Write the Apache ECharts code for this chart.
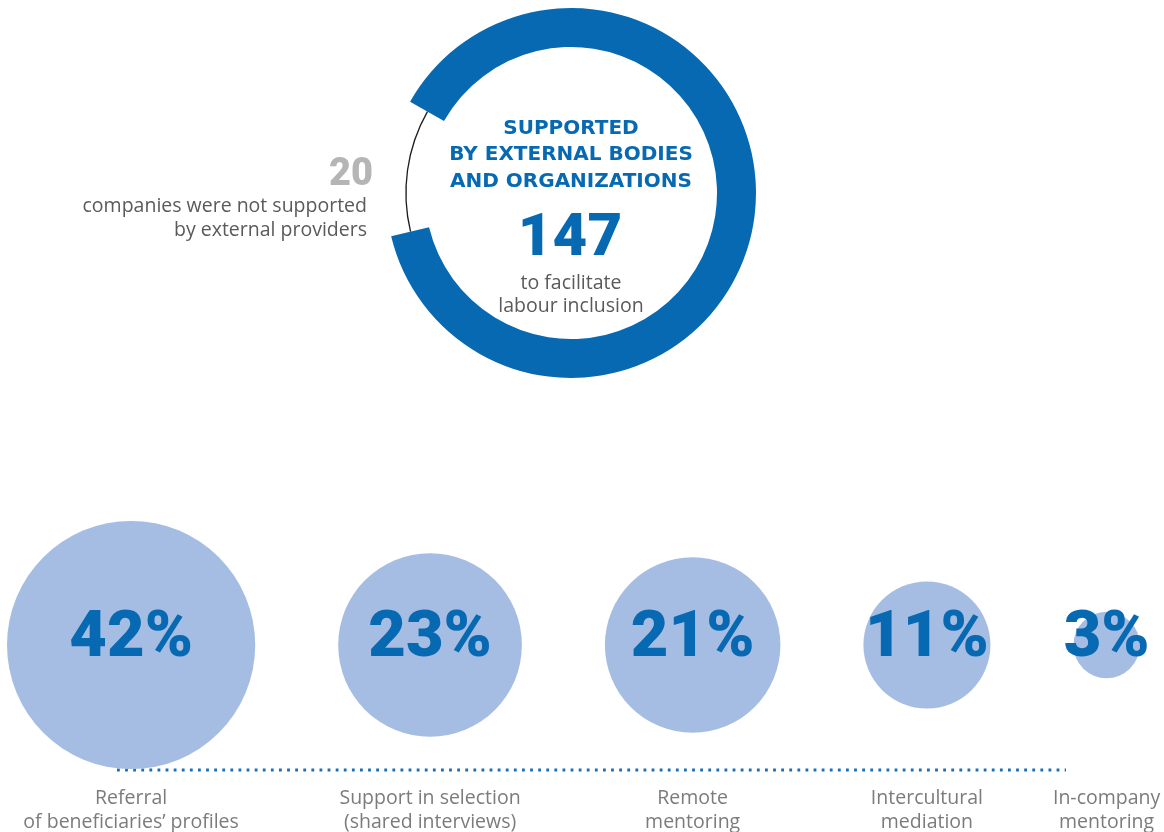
<!DOCTYPE html>
<html>
<head>
<meta charset="utf-8">
<title>External support for labour inclusion</title>
<script src="https://cdn.jsdelivr.net/npm/echarts@6/dist/echarts.min.js"></script>
<style>
  html, body { margin: 0; padding: 0; background: #ffffff; }
  #chart { width: 1164px; height: 832px; }
</style>
</head>
<body>
<div id="chart"></div>
<script>
// Companies supported / not supported by external bodies
const supportedCount = 147;
const notSupportedCount = 20;

// Type of support received (share of companies, %)
const supportTypes = [
  'Referral\nof beneficiaries’ profiles',
  'Support in selection\n(shared interviews)',
  'Remote\nmentoring',
  'Intercultural\nmediation',
  'In-company\nmentoring'
];
const supportShares = [42, 23, 21, 11, 3];

const BLUE = '#0669b2';
const BUBBLE = '#a6bde3';
const GREY_TEXT = '#5a5a5a';
const BODY_FONT = '"Open Sans", "Noto Sans", sans-serif';
const HEAVY_FONT = 'Roboto, "Noto Sans", sans-serif';

// Bubble area is proportional to the share; bubbles sit side by side
// with an even gap between their edges.
const RADIUS_PER_SQRT = 19.15;
const BUBBLE_GAP = 83;
const FIRST_LEFT = 7;
const radii = supportShares.map(v => RADIUS_PER_SQRT * Math.sqrt(v));
const bubbleX = [];
radii.forEach((r, i) => {
  bubbleX.push(i === 0 ? FIRST_LEFT + r : bubbleX[i - 1] + radii[i - 1] + BUBBLE_GAP + r);
});
const bubbleData = supportShares.map((v, i) => ({ value: [bubbleX[i], 0, v], name: supportTypes[i] }));

// Ring: the gap (not supported) is centred slightly above the 9 o'clock position
const ringTotal = supportedCount + notSupportedCount;
const gapAngle = 360 * notSupportedCount / ringTotal;
const gapCentre = 172;
const ringStart = gapCentre - gapAngle / 2;
const RING_CENTER = [571, 193];

const chart = echarts.init(document.getElementById('chart'));

chart.setOption({
  animation: false,
  backgroundColor: '#ffffff',
  grid: { left: 0, right: 0, top: 545, height: 200 },
  xAxis: { type: 'value', min: 0, max: 1164, show: false },
  yAxis: { type: 'value', min: -1, max: 1, show: false },
  graphic: [
    {
      type: 'text',
      silent: true,
      style: {
        text: 'SUPPORTED\nBY EXTERNAL BODIES\nAND ORGANIZATIONS',
        x: 571, y: 155,
        align: 'center', verticalAlign: 'middle',
        fontFamily: '"DejaVu Sans", sans-serif', fontWeight: 'bold', fontSize: 20,
        lineHeight: 26.4,
        fill: BLUE
      }
    },
    {
      type: 'text',
      silent: true,
      style: {
        text: 'to facilitate\nlabour inclusion',
        x: 571, y: 295,
        align: 'center', verticalAlign: 'middle',
        fontFamily: BODY_FONT, fontSize: 19.5, lineHeight: 23.5,
        fill: GREY_TEXT
      }
    },
    {
      type: 'text',
      silent: true,
      style: {
        text: 'companies were not supported\nby external providers',
        x: 367, y: 218,
        align: 'right', verticalAlign: 'middle',
        fontFamily: BODY_FONT, fontSize: 19.5, lineHeight: 24,
        fill: GREY_TEXT
      }
    },
    {
      type: 'line',
      silent: true,
      shape: { x1: 117, y1: 770, x2: 1066, y2: 770 },
      style: { stroke: '#1a6fb7', lineWidth: 2.8, lineDash: [2.8, 5.3] }
    }
  ],
  series: [
    {
      // thick blue ring: supported companies
      type: 'pie',
      silent: true,
      center: RING_CENTER,
      radius: [146, 185],
      startAngle: ringStart,
      clockwise: true,
      avoidLabelOverlap: false,
      label: { show: false },
      labelLine: { show: false },
      data: [
        {
          value: supportedCount,
          name: 'supported',
          itemStyle: { color: BLUE },
          label: {
            show: true,
            formatter: '{c}',
            fontFamily: HEAVY_FONT, fontWeight: 900, fontSize: 60,
            color: BLUE
          }
        },
        { value: notSupportedCount, name: 'not supported', itemStyle: { color: 'rgba(0,0,0,0)' } }
      ],
      labelLayout: function () {
        return { x: 570, y: 240, align: 'center', verticalAlign: 'middle' };
      }
    },
    {
      // thin dark arc across the gap: companies not supported
      type: 'pie',
      silent: true,
      center: RING_CENTER,
      radius: [164.4, 165.7],
      startAngle: ringStart,
      clockwise: true,
      avoidLabelOverlap: false,
      label: { show: false },
      labelLine: { show: false },
      data: [
        { value: supportedCount, name: 'supported', itemStyle: { color: 'rgba(0,0,0,0)' } },
        {
          value: notSupportedCount,
          name: 'not supported',
          itemStyle: { color: '#1b1b1b' },
          label: {
            show: true,
            formatter: '{c}',
            fontFamily: HEAVY_FONT, fontWeight: 900, fontSize: 38,
            color: '#b5b5b5'
          }
        }
      ],
      labelLayout: function () {
        return { x: 373, y: 175, align: 'right', verticalAlign: 'middle' };
      }
    },
    {
      // bubbles: share of each type of support
      type: 'scatter',
      silent: true,
      data: bubbleData,
      symbol: 'circle',
      symbolSize: function (val) {
        return 2 * RADIUS_PER_SQRT * Math.sqrt(val[2]);
      },
      itemStyle: { color: BUBBLE, opacity: 1 },
      label: {
        show: true,
        position: 'inside',
        offset: [0, -5],
        formatter: p => p.value[2] + '%',
        fontFamily: HEAVY_FONT, fontWeight: 900, fontSize: 65,
        color: BLUE
      },
      z: 2
    },
    {
      // category names under the dotted baseline
      type: 'scatter',
      silent: true,
      data: bubbleData,
      symbol: 'circle',
      symbolSize: 2,
      itemStyle: { color: 'rgba(0,0,0,0)' },
      label: {
        show: true,
        position: 'inside',
        offset: [0, 165],
        formatter: p => p.name,
        fontFamily: BODY_FONT, fontSize: 19.5, lineHeight: 24,
        color: GREY_TEXT
      },
      z: 3
    }
  ]
});
</script>
</body>
</html>
